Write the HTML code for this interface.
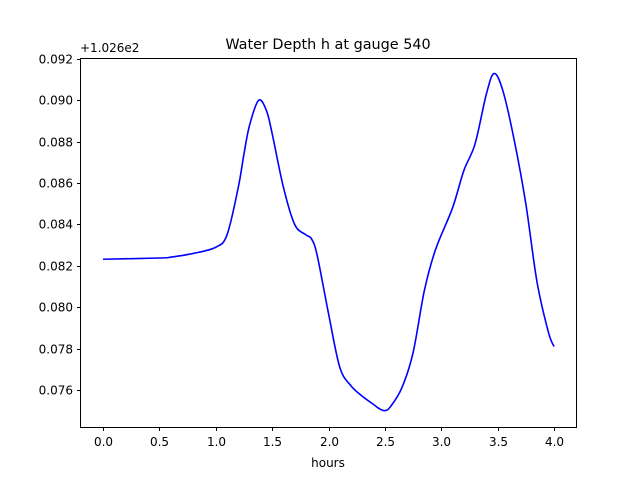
<!DOCTYPE html>
<html><head><meta charset="utf-8"><style>
html,body{margin:0;padding:0;background:#fff;}
svg text{font-family:"DejaVu Sans","Liberation Sans",sans-serif;fill:#000;}
</style></head><body>
<svg id="chart" width="640" height="480" xmlns="http://www.w3.org/2000/svg">
<rect width="640" height="480" fill="#fff"/>
<text x="328" y="49" font-size="14.4" text-anchor="middle">Water Depth h at gauge 540</text>
<text x="80" y="52" font-size="12">+1.026e2</text>
<text x="328" y="467" font-size="12" text-anchor="middle">hours</text>
<g id="ticks"></g>
<path id="line" fill="none" stroke="#0000ff" stroke-width="1.6"/>
<rect x="80.5" y="58.5" width="496" height="369" fill="none" stroke="#000" stroke-width="1"/>
</svg>
<script>
const times=[0.0,0.5,0.6,0.8,1.0,1.1,1.2,1.25,1.3,1.38,1.45,1.5,1.6,1.7,1.8,1.85,1.9,2.0,2.1,2.2,2.3,2.4,2.45,2.5,2.55,2.65,2.75,2.85,2.95,3.1,3.2,3.3,3.4,3.47,3.55,3.65,3.75,3.85,3.95,4.0];
const depths=[0.08232,0.08238,0.08242,0.0826,0.0829,0.0835,0.0858,0.0874,0.0888,0.0900,0.0895,0.0884,0.0858,0.0840,0.0835,0.0833,0.0825,0.0797,0.0771,0.0762,0.0757,0.0753,0.0751,0.0750,0.0752,0.0761,0.0778,0.0808,0.0828,0.0848,0.0866,0.0879,0.0903,0.0913,0.0904,0.0880,0.0850,0.0812,0.0788,0.0781];
const xTicks=[0.0,0.5,1.0,1.5,2.0,2.5,3.0,3.5,4.0];
const yTicks=[0.076,0.078,0.080,0.082,0.084,0.086,0.088,0.090,0.092];
function xs(t){return 103+t*112.75;}
function ys(v){return 390-(v-0.076)*20690;}
const NS="http://www.w3.org/2000/svg";
const g=document.getElementById('ticks');
xTicks.forEach(t=>{
  const x=Math.round(xs(t))+0.5;
  const l=document.createElementNS(NS,'line');
  l.setAttribute('x1',x);l.setAttribute('x2',x);l.setAttribute('y1',427.5);l.setAttribute('y2',431);l.setAttribute('stroke','#000');
  
  
  g.appendChild(l);
  const tx=document.createElementNS(NS,'text');
  tx.setAttribute('x',x);tx.setAttribute('y',446);tx.setAttribute('font-size','12');tx.setAttribute('text-anchor','middle');
  tx.textContent=t.toFixed(1);
  
  
  g.appendChild(tx);
});
yTicks.forEach(v=>{
  const y=Math.round(ys(v))+0.5;
  const l=document.createElementNS(NS,'line');
  l.setAttribute('x1',77);l.setAttribute('x2',80.5);l.setAttribute('y1',y);l.setAttribute('y2',y);l.setAttribute('stroke','#000');
  
  
  g.appendChild(l);
  const tx=document.createElementNS(NS,'text');
  tx.setAttribute('x',73);tx.setAttribute('y',y+4);tx.setAttribute('font-size','12');tx.setAttribute('text-anchor','end');
  tx.textContent=v.toFixed(3);
  
  
  g.appendChild(tx);
});
const P=times.map((t,i)=>[xs(t),ys(depths[i])]);
let d='M'+P[0][0]+','+P[0][1];
for(let i=0;i<P.length-1;i++){
  const p0=P[Math.max(i-1,0)],p1=P[i],p2=P[i+1],p3=P[Math.min(i+2,P.length-1)];
  const c1=[p1[0]+(p2[0]-p0[0])/6,p1[1]+(p2[1]-p0[1])/6];
  const c2=[p2[0]-(p3[0]-p1[0])/6,p2[1]-(p3[1]-p1[1])/6];
  d+=' C'+c1.join(',')+' '+c2.join(',')+' '+p2.join(',');
}
document.getElementById('line').setAttribute('d',d);
</script>
</body></html>
